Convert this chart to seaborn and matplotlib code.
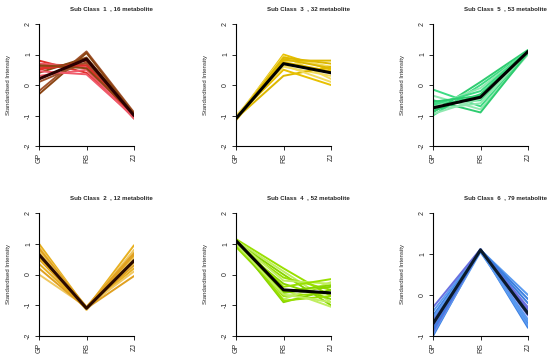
import numpy as np
import pandas as pd
import matplotlib
matplotlib.use("Agg")
import matplotlib.pyplot as plt
import seaborn as sns

sns.set_style("ticks")
plt.rcParams['font.family'] = ['Liberation Sans', 'DejaVu Sans']

stages = ["GP", "RS", "ZJ"]

# Sub Class 1 profiles (GP, RS, ZJ)
class1 = [[-0.2, 1.1, -0.9], [0.8, 0.4, -1.05], [-0.3, 1.05, -0.95],
          [0.7, 0.6, -1.0], [0.6, 0.7, -1.1], [0.5, 0.8, -1.0],
          [0.4, 0.9, -0.95], [0.3, 0.5, -1.1], [0.1, 0.75, -1.0],
          [0.55, 0.65, -1.05], [0.65, 0.55, -0.95], [0.45, 0.35, -1.05]]
class1_mean = [0.2, 0.85, -1.0]

class2 = [[1.0, -1.1, 0.95], [0.9, -1.1, 0.8], [0.8, -1.05, 0.7],
          [0.7, -1.1, 0.6], [0.6, -1.15, 0.5], [0.5, -1.1, 0.3],
          [0.35, -1.1, 0.2], [0.0, -1.05, 0.1], [0.85, -1.1, -0.05],
          [0.55, -1.1, 0.4], [0.75, -1.15, 0.55], [0.2, -1.1, 0.65]]
class2_mean = [0.65, -1.1, 0.45]

class3 = [[-1.1, 1.0, 0.5], [-1.05, 0.9, 0.6], [-1.1, 0.8, 0.8],
          [-1.15, 0.7, 0.4], [-1.0, 0.6, 0.3], [-1.1, 0.3, 0.6],
          [-1.05, 0.5, 0.0], [-1.1, 0.95, 0.2], [-1.1, 0.85, 0.55],
          [-1.15, 0.75, 0.45], [-1.05, 0.65, 0.1], [-1.1, 0.9, 0.7]]
class3_mean = [-1.1, 0.7, 0.4]

class4 = [[1.15, 0.2, -0.7], [1.1, 0.1, -0.9], [1.05, 0.0, -1.0],
          [1.0, -0.1, -0.5], [1.1, -0.2, -0.3], [0.95, -0.3, -0.8],
          [1.1, -0.4, -0.15], [1.05, -0.5, -1.05], [1.0, -0.6, -0.4],
          [0.9, -0.7, -0.6], [1.1, -0.8, -0.25], [1.05, -0.9, -0.5],
          [1.15, -0.85, -0.7], [1.0, -0.65, -0.9], [1.1, -0.55, -0.35]]
class4_mean = [1.1, -0.5, -0.6]

class5 = [[-0.15, -0.7, 1.05], [-0.35, -0.8, 1.0], [-0.5, -0.9, 1.05],
          [-0.6, -0.5, 1.1], [-0.8, -0.6, 1.1], [-0.9, 0.1, 1.15],
          [-1.0, 0.0, 1.1], [-0.7, -0.1, 1.1], [-0.85, -0.3, 1.1],
          [-0.65, -0.2, 1.12], [-0.95, -0.45, 1.08], [-0.55, -0.35, 1.1]]
class5_mean = [-0.75, -0.4, 1.1]

class6 = [[-1.0, 1.1, -0.8], [-0.95, 1.05, -0.6], [-0.9, 1.1, -0.3],
          [-0.8, 1.12, -0.7], [-0.7, 1.1, 0.0], [-0.6, 1.08, -0.5],
          [-0.5, 1.1, -0.2], [-0.4, 1.1, -0.75], [-0.3, 1.12, -0.4],
          [-0.85, 1.1, -0.1], [-0.55, 1.05, -0.65], [-0.75, 1.1, -0.35]]
class6_mean = [-0.7, 1.1, -0.45]

titles = ["Sub Class  1  , 16 metabolite", "Sub Class  2  , 12 metabolite",
          "Sub Class  3  , 32 metabolite", "Sub Class  4  , 52 metabolite",
          "Sub Class  5  , 53 metabolite", "Sub Class  6  , 79 metabolite"]

profiles = [class1, class2, class3, class4, class5, class6]
means = [class1_mean, class2_mean, class3_mean, class4_mean, class5_mean, class6_mean]
palettes = [["#A0522D", "#E0302A", "#8B4513", "#F05A6A"],
            ["#E8B020", "#F0C860", "#E0A020"],
            ["#E8C000", "#F2DC60", "#DDB800"],
            ["#99E000", "#C0EE60", "#88D400"],
            ["#3DDC84", "#90E8B0", "#2ECC70"],
            ["#3C7FE0", "#5A9AF0", "#6A70E0"]]
mean_colors = ["#2A0000", "#2A0A00", "#000000", "#000000", "#000000", "#0A1A2A"]
ylims = [(-2, 2), (-2, 2), (-2, 2), (-2, 2), (-2, 2), (-1, 2)]

fig = plt.figure(figsize=(5.5, 3.59), dpi=100)
W, H = 550, 359
lefts = [39, 236, 433]
tops = [24, 213]
heights = [122, 123]

for i in range(6):
    col = i // 2
    row = i % 2
    ax = fig.add_axes([lefts[col] / W, 1 - (tops[row] + heights[row]) / H,
                       95 / W, heights[row] / H])
    rows = []
    for k, p in enumerate(profiles[i]):
        for s, v in zip(stages, p):
            rows.append({"id": k, "stage": s, "value": v})
    df = pd.DataFrame(rows)
    pal = [palettes[i][k % len(palettes[i])] for k in range(len(profiles[i]))]
    sns.lineplot(data=df, x="stage", y="value", hue="id", units="id",
                 estimator=None, palette=pal, lw=1.4, legend=False, ax=ax)
    sns.lineplot(x=stages, y=means[i], color=mean_colors[i], lw=2.2, ax=ax)
    ax.set_xlim(0, 2)
    ax.set_ylim(*ylims[i])
    lo, hi = ylims[i]
    ax.set_yticks(range(lo, hi + 1))
    ax.set_yticklabels([str(t) for t in range(lo, hi + 1)], rotation=90, va="center")
    ax.set_xticks([0, 1, 2])
    ax.set_xticklabels(stages, rotation=90)
    ax.tick_params(labelsize=5, length=3, width=0.7, pad=2)
    ax.set_xlabel("")
    ax.set_ylabel("Standardised Intensity", fontsize=4.3, labelpad=10)
    for sp in ["top", "right"]:
        ax.spines[sp].set_visible(False)
    for sp in ["left", "bottom"]:
        ax.spines[sp].set_linewidth(0.8)
        ax.spines[sp].set_color("black")
    ty = 9 if row == 0 else 198
    fig.text((lefts[col] + 72) / W, 1 - ty / H, titles[i], fontsize=4.4,
             fontweight="bold", ha="center", va="center")

fig.savefig("out.png", dpi=100)
